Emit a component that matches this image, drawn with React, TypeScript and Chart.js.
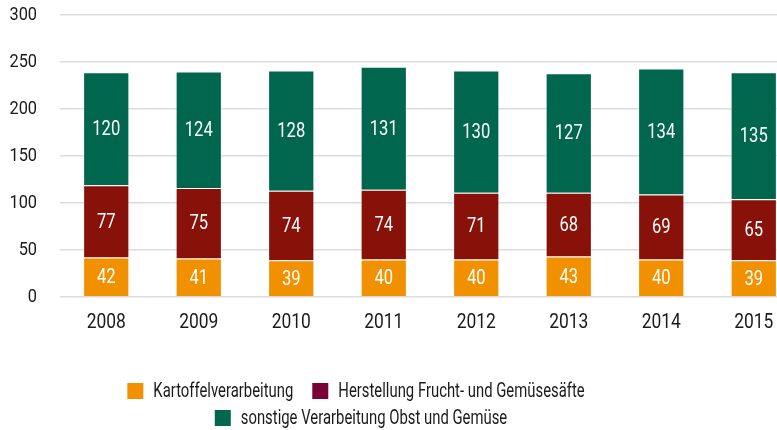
import React, { useEffect, useRef } from "react";
import { Chart, registerables } from "chart.js";

Chart.register(...registerables);

const years = ["2008", "2009", "2010", "2011", "2012", "2013", "2014", "2015"];
const kartoffel = [42, 41, 39, 40, 40, 43, 40, 39];
const saefte = [77, 75, 74, 74, 71, 68, 69, 65];
const sonstige = [120, 124, 128, 131, 130, 127, 134, 135];
const seriesNames = [
  "Kartoffelverarbeitung",
  "Herstellung Frucht- und Gemüsesäfte",
  "sonstige Verarbeitung Obst und Gemüse",
];
const barColors = ["#F29100", "#88120A", "#00664D"];
const legendColors = ["#F29100", "#7B0035", "#00664D"];
const yTicks = [0, 50, 100, 150, 200, 250, 300];

const FONT = "Roboto, 'Noto Sans', sans-serif";
const TEXT = "#1a1a1a";

function condensedText(ctx: any, text: string, x: number, y: number, align: string, sx: number, size: number, color: string) {
  ctx.save();
  ctx.font = `${size}px ${FONT}`;
  ctx.fillStyle = color;
  ctx.textAlign = align;
  ctx.textBaseline = "middle";
  ctx.translate(x, y);
  ctx.scale(sx, 1);
  ctx.fillText(text, 0, 0);
  ctx.restore();
}

const axisLabels = {
  id: "axisLabels",
  afterDraw(chart: any) {
    const ctx = chart.ctx;
    const ys = chart.scales.y;
    ys.ticks.forEach((t: any) => {
      condensedText(ctx, String(t.value), 37, ys.getPixelForValue(t.value), "right", 0.86, 19, TEXT);
    });
    const xs = chart.scales.x;
    chart.data.labels.forEach((l: string, i: number) => {
      condensedText(ctx, l, xs.getPixelForValue(i), chart.chartArea.bottom + 26, "center", 0.83, 21, TEXT);
    });
  },
};

const valueLabels = {
  id: "valueLabels",
  afterDatasetsDraw(chart: any) {
    const ctx = chart.ctx;
    chart.data.datasets.forEach((ds: any, i: number) => {
      const meta = chart.getDatasetMeta(i);
      meta.data.forEach((el: any, j: number) => {
        const { x, y, base } = el.getProps(["x", "y", "base"], true);
        condensedText(ctx, String(ds.data[j]), x, (y + base) / 2 + 1, "center", 0.79, 21, "#ffffff");
      });
    });
  },
};

const customLegend = {
  id: "customLegend",
  afterDraw(chart: any) {
    const ctx = chart.ctx;
    const rows = [[0, 1], [2]];
    const rowY = [391, 418];
    const rowCenter = [356, 361];
    const box = 16;
    const gapText = 10;
    const gapItem = 19;
    const sx = 0.725;
    const size = 20.5;
    ctx.save();
    ctx.font = `${size}px ${FONT}`;
    rows.forEach((row, r) => {
      const widths = row.map((i) => box + gapText + ctx.measureText(chart.data.datasets[i].label).width * sx);
      const total = widths.reduce((a, b) => a + b, 0) + gapItem * (row.length - 1);
      let x = rowCenter[r] - total / 2;
      row.forEach((i, k) => {
        ctx.fillStyle = legendColors[i];
        ctx.fillRect(x, rowY[r] - box / 2, box, box);
        condensedText(ctx, chart.data.datasets[i].label, x + box + gapText, rowY[r] + 1, "left", sx, size, TEXT);
        x += widths[k] + gapItem;
      });
    });
    ctx.restore();
  },
};

export default function App() {
  const ref = useRef<HTMLCanvasElement>(null);
  useEffect(() => {
    document.body.style.margin = "0";
    const chart = new Chart(ref.current!, {
      type: "bar",
      data: {
        labels: years,
        datasets: [kartoffel, saefte, sonstige].map((d, i) => ({
          label: seriesNames[i],
          data: d,
          backgroundColor: barColors[i],
          borderColor: "rgba(255,255,255,0.35)",
          borderWidth: 1,
          barPercentage: 0.5,
          categoryPercentage: 1,
        })),
      },
      options: {
        responsive: false,
        animation: false,
        layout: { padding: { top: 15, bottom: 93, left: 0, right: 0 } },
        plugins: { legend: { display: false }, tooltip: { enabled: false } },
        scales: {
          x: {
            stacked: true,
            grid: { display: false, drawTicks: false },
            border: { display: false },
            ticks: { display: false },
            afterFit: (s: any) => {
              s.height = 40;
            },
          },
          y: {
            stacked: true,
            min: 0,
            max: 300,
            afterBuildTicks: (s: any) => {
              s.ticks = yTicks.map((v) => ({ value: v }));
            },
            afterFit: (s: any) => {
              s.width = 60;
            },
            grid: { color: "#dcdcdc", lineWidth: 1.5, drawTicks: false },
            border: { display: false },
            ticks: { display: false },
          },
        },
      },
      plugins: [valueLabels, axisLabels, customLegend],
    });
    return () => chart.destroy();
  }, []);
  return (
    <div style={{ position: "fixed", left: 0, top: 0, width: 777, height: 430, overflow: "hidden", background: "#fff" }}>
      <canvas ref={ref} width={800} height={430} style={{ width: 800, height: 430 }} />
    </div>
  );
}
